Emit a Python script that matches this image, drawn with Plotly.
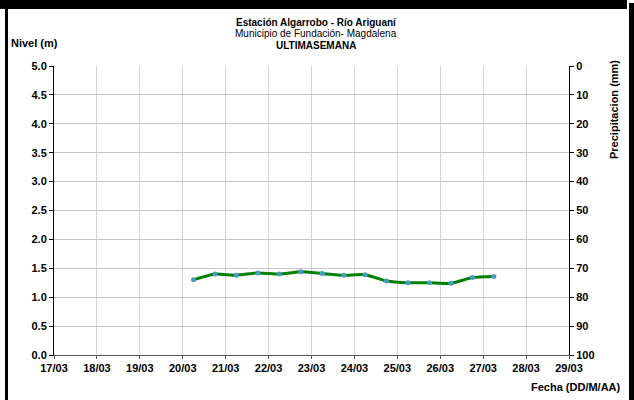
import plotly.graph_objects as go

fechas = ["2023-03-20 06:00", "2023-03-20 18:00", "2023-03-21 06:00", "2023-03-21 18:00",
          "2023-03-22 06:00", "2023-03-22 18:00", "2023-03-23 06:00", "2023-03-23 18:00",
          "2023-03-24 06:00", "2023-03-24 18:00", "2023-03-25 06:00", "2023-03-25 18:00",
          "2023-03-26 06:00", "2023-03-26 18:00", "2023-03-27 06:00"]
nivel = [1.30, 1.40, 1.38, 1.42, 1.40, 1.44, 1.41, 1.38, 1.39, 1.28, 1.25, 1.25, 1.24, 1.34, 1.36]
nivel_ticks = [0.0, 0.5, 1.0, 1.5, 2.0, 2.5, 3.0, 3.5, 4.0, 4.5, 5.0]
precip_ticks = [0, 10, 20, 30, 40, 50, 60, 70, 80, 90, 100]

W, H = 634, 400
L, R, T, B = 54, 569, 66, 355

def px(x):
    return x / W

def py(y):
    return (H - y) / H

FONT = "Liberation Sans, Arial, sans-serif"

fig = go.Figure()

# decorative black frame: each bar is its own tiny strip subplot filled black
frame = [
    (0, 0, 627, 9),
    (5, 0, 8, 400),
    (629, 3, 634, 400),
]
strip_axes = {}
for i, (x0, y0, x1, y1) in enumerate(frame):
    n = i + 3
    xa, ya = f"x{n}", f"y{n}"
    fig.add_trace(go.Scatter(x=[0, 1, 1, 0, 0], y=[0, 0, 1, 1, 0], xaxis=xa, yaxis=ya,
                             mode="lines", fill="toself", fillcolor="black",
                             line=dict(color="black", width=2),
                             showlegend=False, hoverinfo="skip"))
    strip_axes[f"xaxis{n}"] = dict(domain=[px(x0), px(x1)], range=[0, 1], visible=False,
                                   anchor=ya, fixedrange=True)
    strip_axes[f"yaxis{n}"] = dict(domain=[py(y1), py(y0)], range=[0, 1], visible=False,
                                   anchor=xa, fixedrange=True)

fig.add_trace(go.Scatter(
    x=fechas, y=nivel, mode="lines+markers",
    line=dict(color="#008000", width=3, shape="spline", smoothing=0.5),
    marker=dict(color="#4a9bc4", size=5),
    showlegend=False, hoverinfo="x+y",
))
fig.add_trace(go.Scatter(x=[fechas[0]], y=[None], yaxis="y2", showlegend=False, hoverinfo="skip"))

fig.update_layout(
    width=W, height=H,
    margin=dict(l=0, r=0, t=0, b=0, autoexpand=False),
    paper_bgcolor="white", plot_bgcolor="white",
    font=dict(family=FONT, size=11, color="black"),
    xaxis=dict(
        domain=[px(L), px(R)],
        type="date", range=["2023-03-17", "2023-03-29"],
        dtick=86400000, tick0="2023-03-17", tickformat="%d/%m",
        showgrid=True, gridcolor="#d4d4d4", gridwidth=1,
        showline=True, linecolor="#555555", linewidth=1,
        ticks="outside", ticklen=3, tickcolor="#555555",
        tickfont=dict(family=FONT, size=11, color="black", weight="bold"),
        zeroline=False,
    ),
    yaxis=dict(
        domain=[py(B), py(T)],
        range=[0, 5], tickvals=nivel_ticks, ticktext=[f"{v:.1f}" for v in nivel_ticks],
        showgrid=True, gridcolor="#c8c8c8", gridwidth=1,
        showline=True, linecolor="black", linewidth=1,
        ticks="outside", ticklen=4, tickcolor="black",
        tickfont=dict(family=FONT, size=11, color="black", weight="bold"),
        zeroline=False,
    ),
    yaxis2=dict(
        domain=[py(B), py(T)],
        range=[100, 0], tickvals=precip_ticks, overlaying="y", side="right",
        showgrid=False, showline=True, linecolor="black", linewidth=1,
        ticks="outside", ticklen=4, tickcolor="black",
        tickfont=dict(family=FONT, size=11, color="black", weight="bold"),
        zeroline=False,
    ),
    **strip_axes,
)

annotations = [
    dict(text="<b>Estación Algarrobo - Río Ariguaní</b>", x=px(316), y=py(22)),
    dict(text="Municipio de Fundación- Magdalena", x=px(316), y=py(33.5)),
    dict(text="<b>ULTIMASEMANA</b>", x=px(316), y=py(45)),
]
for a in annotations:
    fig.add_annotation(text=a["text"], x=a["x"], y=a["y"], xref="paper", yref="paper",
                       showarrow=False, xanchor="center", yanchor="middle",
                       font=dict(family=FONT, size=10, color="black"))

fig.add_annotation(text="<b>Nivel (m)</b>", x=px(9), y=py(43), xref="paper", yref="paper",
                   showarrow=False, xanchor="left", yanchor="middle",
                   font=dict(family=FONT, size=11, color="black"))
fig.add_annotation(text="<b>Precipitacion (mm)</b>", x=px(614), y=py(110), xref="paper", yref="paper",
                   showarrow=False, xanchor="center", yanchor="middle", textangle=-90,
                   font=dict(family=FONT, size=11, color="black"))
fig.add_annotation(text="<b>Fecha (DD/M/AA)</b>", x=px(623), y=py(387), xref="paper", yref="paper",
                   showarrow=False, xanchor="right", yanchor="middle",
                   font=dict(family=FONT, size=11, color="black"))

fig.write_html("out.html", config={"displayModeBar": False},
               post_script="document.body.style.margin='0';")
